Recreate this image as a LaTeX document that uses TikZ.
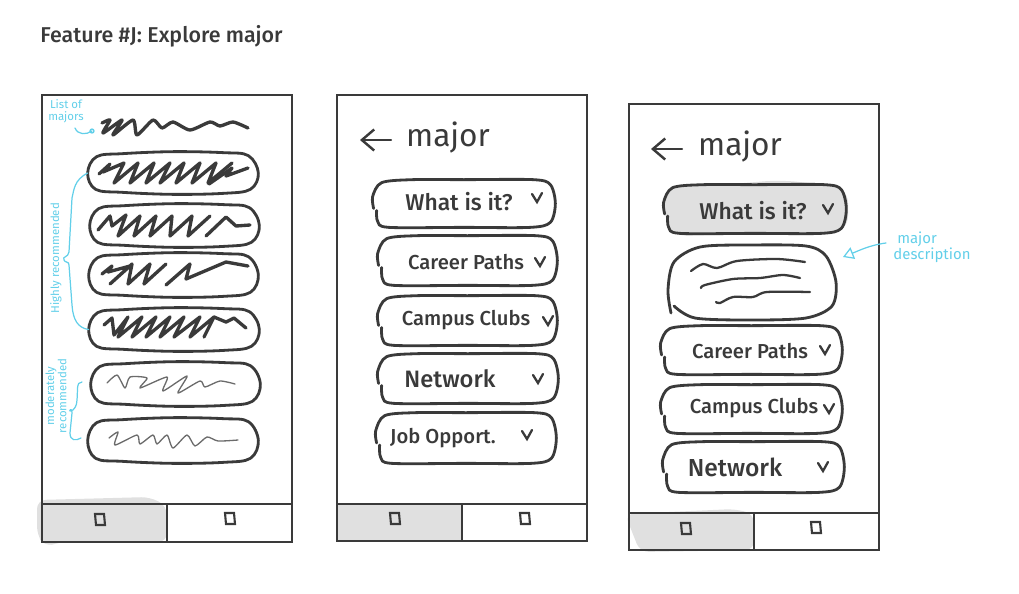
\documentclass[tikz,border=0pt]{standalone}
\usepackage{fontspec}
\setmainfont{Fira Sans}[BoldFont={Fira Sans Medium}]
\usetikzlibrary{arrows.meta,calc}
\definecolor{ink}{HTML}{3A3A3A}
\definecolor{notecol}{HTML}{62CFE9}
\definecolor{tabgrey}{HTML}{E0E0E0}
\tikzset{
    phoneframe/.style={draw=ink,line width=1.1pt},
    pillbox/.style={inner sep=0pt},
    pillline/.style={draw=ink,line width=1.6pt,line cap=round,line join=round},
    heavyscrib/.style={ink,line width=1.9pt,line join=round,line cap=round},
    thinscrib/.style={ink!75,line width=.75pt,line join=round,line cap=round},
    wavyline/.style={ink,line width=1.3pt,line cap=round,line join=round},
    notepath/.style={notecol,line width=.7pt,line cap=round},
    notetext/.style={notecol,font=\fontsize{6.5}{7}\selectfont,align=center,inner sep=0pt},
    handtext/.style={ink,font=\fontsize{11.5}{13}\selectfont\bfseries,inner sep=0pt},
}
% long flat pill of the first phone
\newcommand{\listpill}[1]{
    \draw [pillline] plot[smooth cycle,tension=.6] coordinates {
        (#1.west) ($(#1.north west)+(9,5)$) ($(#1.north west)+(35,2)$) (#1.north)
        ($(#1.north east)+(-35,1)$) ($(#1.north east)+(-10,4)$) (#1.east)
        ($(#1.south east)+(-8,-5)$) ($(#1.south east)+(-35,-1)$) (#1.south)
        ($(#1.south west)+(35,-2)$) ($(#1.south west)+(8,-5)$)};
}
% pill whose stroke starts and stops on its left side
\newcommand{\menupill}[2][]{
    \draw [pillline,#1] plot[smooth,tension=.5] coordinates {
        ($(#2.west)+(1,5)$) ($(#2.west)+(0,-7)$) ($(#2.north west)+(9,3)$) ($(#2.north west)+(40,0)$) (#2.north)
        ($(#2.north east)+(-22,0)$) ($(#2.north east)+(-5,5)$) (#2.east)
        ($(#2.south east)+(-5,-5)$) ($(#2.south east)+(-25,0)$) (#2.south)
        ($(#2.south west)+(16,0)$) ($(#2.south west)+(5,-6)$) ($(#2.west)+(4,7)$)};
}
\begin{document}
\begin{tikzpicture}[x=0.02cm,y=-0.02cm]
    \useasboundingbox (0,0) rectangle (1019,593);

    \node[ink,font=\fontsize{12.2}{14}\selectfont\bfseries,anchor=west,inner sep=0pt] (title) at (40,36) {Feature \#J: Explore major};

    % shaded tabs
    \fill [tabgrey,rounded corners=5pt] (37,500) -- (150,497) -- (167,506) -- (167,542) -- (60,542) -- (45,547) -- (37,535) -- cycle;
    \fill [tabgrey] (337,504) rectangle (462,541);
    \fill [tabgrey,rounded corners=5pt] (625,514) -- (735,509) -- (754,514) -- (754,550) -- (640,552) -- cycle;
    \fill [tabgrey,rounded corners=9pt] (660,190) -- (780,180) -- (848,187) -- (848,232) -- (670,236) -- cycle;

    % phones
    \foreach \name/\xa/\ya/\xb/\yb/\bar/\tab in {
        one/42/95/292/542/504/167,
        two/337/95/587/541/504/462,
        three/629/104/879/550/513/754} {
        \draw [phoneframe] (\xa,\ya) rectangle (\xb,\yb);
        \draw [phoneframe] (\xa,\bar) -- (\xb,\bar);
        \draw [phoneframe] (\tab,\bar) -- (\tab,\yb);
    }
    \foreach \x/\y in {100/520,230/519,395/519,525/519,686/529,816/528} {
        \draw [ink,line width=1.2pt] ({\x-5},{\y-6}) -- ({\x+4},{\y-6}) -- ({\x+5},{\y+5}) -- ({\x-4},{\y+5}) -- cycle;
    }

    % pills
    \foreach \name/\x/\y/\w/\h in {
        listA/173/173/170/42, listB/174.5/225.5/169/43, listC/173.5/275/169/44,
        listD/174/329.5/170/43, listE/175.5/384/169/44, listF/173/440.5/170/45} {
        \node[pillbox,minimum width=\w*0.02cm,minimum height=\h*0.02cm] (\name) at (\x,\y) {};
        \listpill{\name}
    }
    \foreach \name/\x/\y/\w/\h in {
        whatB/464/203.5/182/47, careerB/467.5/260.5/179/49, clubsB/467.5/320.5/179/49,
        netB/468/378.5/180/49, jobB/466/438/180/50,
        careerC/751.5/350/181/48, clubsC/751.5/409/181/48, netC/753.5/467/181/50} {
        \node[pillbox,minimum width=\w*0.02cm,minimum height=\h*0.02cm] (\name) at (\x,\y) {};
        \menupill{\name}
    }
    \node[pillbox,minimum width=3.64cm,minimum height=0.96cm] (whatC) at (755,209) {};
    \menupill[fill=tabgrey]{whatC}
    \node[pillbox,minimum width=3.36cm,minimum height=1.5cm] (descbox) at (752,282.5) {};
    \draw [pillline] plot[smooth,tension=.5] coordinates {
        (671,313) (668,290) (674,262) (700,247) (750,245) (806,246) (826,256) (836,282) (832,306) (806,318) (750,320) (695,318) (674,306)};

    % labels of the pills
    \node[handtext,font=\fontsize{13}{15}\selectfont\bfseries] (whatBtext) at (459,202) {What is it?};
    \node[handtext] (careerBtext) at (466,262) {Career Paths};
    \node[handtext] (clubsBtext) at (466,320) {Campus Clubs};
    \node[handtext,font=\fontsize{13.5}{15}\selectfont\bfseries] (netBtext) at (450,379) {Network};
    \node[handtext] (jobBtext) at (443,438) {Job Opport.};
    \node[handtext,font=\fontsize{13}{15}\selectfont\bfseries] (whatCtext) at (753,211) {What is it?};
    \node[handtext] (careerCtext) at (750,351) {Career Paths};
    \node[handtext] (clubsCtext) at (754,408) {Campus Clubs};
    \node[handtext,font=\fontsize{14}{16}\selectfont\bfseries] (netCtext) at (735,467) {Network};

    % chevrons
    \foreach \x/\y in {537/198,540/262,548/321,538/379,527/435,828/209,825/350,829/409,823/467} {
        \draw [ink,line width=1.3pt,line cap=round] ({\x-5},{\y-4}) -- (\x,{\y+4}) -- ({\x+5},{\y-5});
    }

    % headers
    \node[handtext,font=\fontsize{18}{21}\selectfont] (majorB) at (448,138) {major};
    \node[handtext,font=\fontsize{18}{21}\selectfont] (majorC) at (740,147) {major};
    \coordinate (backBend) at (391,140);
    \coordinate (backBtip) at (360,140);
    \coordinate (backCend) at (682,149);
    \coordinate (backCtip) at (651,149);
    \draw [ink,line width=1.4pt,line cap=round,-{Straight Barb[length=7pt,width=12pt]}] (backBend) -- (backBtip);
    \draw [ink,line width=1.4pt,line cap=round,-{Straight Barb[length=7pt,width=12pt]}] (backCend) -- (backCtip);

    % heavy scribbles
    \draw [heavyscrib] plot[smooth,tension=.4] coordinates {(102,123) (110,120) (103,133) (122,120) (113,135) (133,120) (137,135) (153,120) (162,128) (173,122) (190,130) (210,122) (220,126) (233,122) (248,128)};
    \draw [heavyscrib] (99,174) -- (110,164) -- (103,172) -- (124,163)
        \foreach \x in {114,130,146,160,176,192,208} { -- (\x,183) -- ({\x+24},163) };
    \draw [heavyscrib] (209,184) -- (232,168) -- (226,176) -- (248,168);
    \draw [heavyscrib] (98,230) -- (110,216) -- (112,226) -- (126,215)
        \foreach \x in {118,134,150,170,188} { -- (\x,236) -- ({\x+22},216) };
    \draw [heavyscrib] (206,236) -- (226,217) -- (236,226) -- (250,225);
    \draw [heavyscrib] (102,274) -- (112,266) -- (108,272) -- (130,266)
        \foreach \x in {110,128,144} { -- (\x,284) -- ({\x+22},264) };
    \draw [heavyscrib] (166,285) -- (190,264) -- (186,279) -- (226,262) -- (248,266);
    \draw [heavyscrib] (104,325) -- (112,318) -- (114,335)
        \foreach \x in {118,132,146,160,174,190,204} { -- ({\x+10},317) -- (\x,337) };
    \draw [heavyscrib] (214,317) -- (226,322) -- (234,318) -- (246,328);

    % light scribbles
    \draw [thinscrib] plot[smooth,tension=.4] coordinates {(107,383) (117,375) (125,388) (130,377) (147,378) (140,388) (167,377) (163,391) (187,376) (178,393) (200,381) (205,387) (220,381) (235,384)};
    \draw [thinscrib] plot[smooth,tension=.4] coordinates {(109,438) (118,432) (115,445) (137,435) (140,444) (153,435) (157,444) (167,435) (173,448) (187,435) (195,446) (207,437) (218,441) (238,440)};

    % description lines
    \draw [wavyline] plot[smooth,tension=.5] coordinates {(691,271) (703,264) (717,268) (737,261) (777,259) (805,262)};
    \draw [wavyline] plot[smooth,tension=.5] coordinates {(701,288) (705,285) (733,279) (760,278) (783,275) (800,278)};
    \draw [wavyline] plot[smooth,tension=.5] coordinates {(716,302) (720,303) (733,297) (753,297) (767,292) (810,292)};

    % notes
    \node[notetext] (listnote) at (66,111) {List of\\majors};
    \node[notetext,rotate=90] (highnote) at (56,258) {Highly recommended};
    \node[notetext,rotate=90] (modnote) at (56,396) {moderately\\recommended};
    \node[notetext,font=\fontsize{8.5}{9}\selectfont,align=left] (descnote) at (932,247) {\ major\\description};

    \coordinate (listend) at (92,131);
    \draw [notepath] (75,128) .. controls (78,135) and (86,135) .. (listend) circle (2);
    \draw [notepath] (listA.west) .. controls (74,180) and (74,190) .. (72,198) -- (69,252) .. controls (68,258) and (62,256) .. (64,260) .. controls (65,263) and (69,261) .. (69,265) -- (72,305) .. controls (73,320) and (78,328) .. (listD.west);
    \draw [notepath] (82,382) .. controls (76,382) and (78,390) .. (77,400) .. controls (77,406) and (74,410) .. (71,411) .. controls (68,412) and (72,406) .. (72,413) -- (70,433) .. controls (70,441) and (76,441) .. (81,438);
    \coordinate (descstart) at (886,243);
    \coordinate (desctip) at (843,257);
    \draw [notepath,-{Triangle[open,length=6pt,width=7pt]}] (descstart) .. controls (870,245) and (858,251) .. (desctip);
\end{tikzpicture}
\end{document}
